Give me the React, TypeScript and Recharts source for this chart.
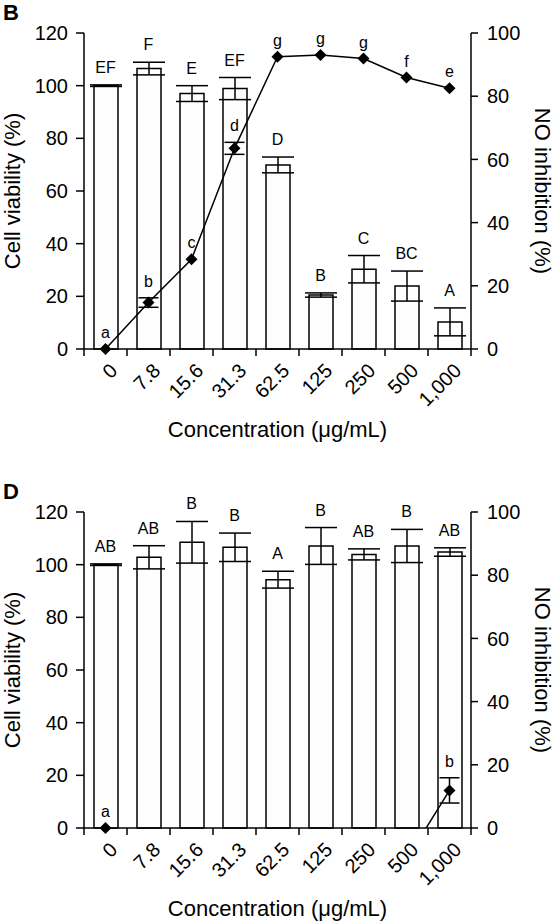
import React from "react";
import {
  ComposedChart,
  Bar,
  Line,
  XAxis,
  YAxis,
  ErrorBar,
  LabelList,
} from "recharts";

const concentrations = ["0", "7.8", "15.6", "31.3", "62.5", "125", "250", "500", "1,000"];

// panel B
const viabilityB = [100, 106.5, 97, 98.9, 69.9, 20.5, 30.3, 23.9, 10.3];
const viabilityErrB = [0.3, 2.4, 3, 4.2, 3, 0.8, 5.2, 5.7, 5.3];
const viabilityLettersB = ["EF", "F", "E", "EF", "D", "B", "C", "BC", "A"];
const inhibitionB = [0, 14.7, 28.4, 63.5, 92.5, 93, 91.9, 85.9, 82.5];
const inhibitionErrB = [0, 1.5, 0, 1.9, 0, 0, 0, 0, 0];
const inhibitionLettersB = ["a", "b", "c", "d", "g", "g", "g", "f", "e"];

// panel D (inhibition below zero is off the axis)
const viabilityD = [100, 102.8, 108.5, 106.6, 94.3, 107.1, 103.9, 107.1, 104.8];
const viabilityErrD = [0.3, 4.4, 7.9, 5.4, 3.2, 7, 2.1, 6.3, 1.6];
const viabilityLettersD = ["AB", "AB", "B", "B", "A", "B", "AB", "B", "AB"];
const inhibitionD = [0, -6, -9, -7, -10, -8, -9, -10, 11.9];
const inhibitionErrD = [0, 0, 0, 0, 0, 0, 0, 0, 4];
const inhibitionLettersD = ["a", null, null, null, null, null, null, null, "b"];

const leftTicks = [0, 20, 40, 60, 80, 100, 120];
const rightTicks = [0, 20, 40, 60, 80, 100];

const FONT = "'Liberation Sans', Arial, Helvetica, sans-serif";
const W = 555;
const H = 444;
const AXIS_W = 84;
const STEP = (W - 2 * AXIS_W) / concentrations.length;

function buildRows(
  via: number[],
  viaErr: number[],
  viaLet: string[],
  inh: number[],
  inhErr: number[],
  inhLet: (string | null)[]
) {
  return concentrations.map((c, i) => {
    const shown = inh[i] >= 0;
    return {
      conc: c,
      viability: via[i],
      viabilityErr: viaErr[i],
      letterPos: via[i] + viaErr[i],
      viaLetter: viaLet[i],
      inhibition: inh[i],
      inhShown: shown ? inh[i] : null,
      inhErr: shown && inhErr[i] > 0 ? inhErr[i] : null,
      inhLetterPos: shown ? inh[i] + inhErr[i] : null,
      inhLetter: shown ? inhLet[i] : null,
    };
  });
}

const XTick = (props: any) => {
  const { x, y, payload, index } = props;
  const i = index ?? payload.index;
  const ax = x + 13;
  const ay = y + 23;
  return (
    <g>
      <line x1={x - STEP / 2} x2={x - STEP / 2} y1={y} y2={y + 7} stroke="#000" strokeWidth={1.5} />
      {i === concentrations.length - 1 && (
        <line x1={x + STEP / 2} x2={x + STEP / 2} y1={y} y2={y + 7} stroke="#000" strokeWidth={1.5} />
      )}
      <text
        x={ax}
        y={ay}
        transform={`rotate(-45, ${ax}, ${ay})`}
        textAnchor="end"
        fontSize={20}
        fontFamily={FONT}
        fill="#000"
      >
        {payload.value}
      </text>
    </g>
  );
};

const Diamond = (props: any) => {
  const { cx, cy, index } = props;
  if (cx == null || cy == null || isNaN(cy)) return <g key={`dm-${index}`} />;
  const r = 6;
  return (
    <path
      key={`dm-${index}`}
      d={`M${cx},${cy - r}L${cx + r},${cy}L${cx},${cy + r}L${cx - r},${cy}Z`}
      fill="#000"
    />
  );
};

function Panel({ tag, rows }: { tag: string; rows: any[] }) {
  const tickStyle = { fontSize: 20, fontFamily: FONT, fill: "#000" };
  return (
    <div style={{ position: "relative", width: W, height: H }}>
      <svg style={{ position: "absolute", left: 0, top: 0 }} width={40} height={30}>
        <text x={3} y={20} fontSize={22} fontWeight="bold" fontFamily={FONT} fill="#000">
          {tag}
        </text>
      </svg>
      <ComposedChart
        width={W}
        height={H}
        data={rows}
        margin={{ top: 33, right: 0, bottom: 0, left: 0 }}
      >
        <XAxis
          dataKey="conc"
          height={H - 33 - 316}
          interval={0}
          tickLine={false}
          tickSize={0}
          tickMargin={0}
          tick={<XTick />}
          axisLine={{ stroke: "#000", strokeWidth: 1.5 }}
          label={(p: any) => {
            const vb = p.viewBox;
            return (
              <text
                x={vb.x + vb.width / 2}
                y={vb.y + 88}
                textAnchor="middle"
                fontSize={22}
                fontFamily={FONT}
                fill="#000"
              >
                Concentration (μg/mL)
              </text>
            );
          }}
        />
        <YAxis
          yAxisId="left"
          width={AXIS_W}
          domain={[0, 120]}
          ticks={leftTicks}
          interval={0}
          tickSize={8}
          tickMargin={8}
          tick={tickStyle}
          axisLine={{ stroke: "#000", strokeWidth: 1.5 }}
          tickLine={{ stroke: "#000", strokeWidth: 1.5 }}
          label={(p: any) => {
            const vb = p.viewBox;
            const cy = vb.y + vb.height / 2;
            return (
              <text
                x={20}
                y={cy}
                transform={`rotate(-90, 20, ${cy})`}
                textAnchor="middle"
                fontSize={22}
                fontFamily={FONT}
                fill="#000"
              >
                Cell viability (%)
              </text>
            );
          }}
        />
        <YAxis
          yAxisId="right"
          orientation="right"
          width={AXIS_W}
          domain={[0, 100]}
          allowDataOverflow
          ticks={rightTicks}
          interval={0}
          tickSize={7}
          tickMargin={9}
          tick={tickStyle}
          axisLine={{ stroke: "#000", strokeWidth: 1.5 }}
          tickLine={{ stroke: "#000", strokeWidth: 1.5 }}
          label={(p: any) => {
            const vb = p.viewBox;
            const cy = vb.y + vb.height / 2;
            return (
              <text
                x={535}
                y={cy}
                transform={`rotate(90, 535, ${cy})`}
                textAnchor="middle"
                fontSize={22}
                fontFamily={FONT}
                fill="#000"
              >
                NO inhibition (%)
              </text>
            );
          }}
        />
        <YAxis yAxisId="marks" orientation="right" hide width={0} domain={[0, 100]} />
        <Bar
          yAxisId="left"
          dataKey="viability"
          fill="#fefefe"
          stroke="#000"
          strokeWidth={1.5}
          barSize={24}
          isAnimationActive={false}
        >
          <ErrorBar dataKey="viabilityErr" width={16} stroke="#000" strokeWidth={1.5} />
        </Bar>
        <Line
          yAxisId="left"
          dataKey="letterPos"
          stroke="none"
          dot={false}
          activeDot={false}
          isAnimationActive={false}
        >
          <LabelList
            dataKey="viaLetter"
            position="top"
            offset={12}
            style={{ fontSize: 16, fontFamily: FONT, fill: "#000" }}
          />
        </Line>
        <Line
          yAxisId="right"
          dataKey="inhibition"
          stroke="#000"
          strokeWidth={1.5}
          dot={false}
          activeDot={false}
          isAnimationActive={false}
        />
        <Line
          yAxisId="marks"
          dataKey="inhShown"
          stroke="none"
          dot={Diamond}
          activeDot={false}
          isAnimationActive={false}
        >
          <ErrorBar dataKey="inhErr" width={10} stroke="#000" strokeWidth={1.5} />
        </Line>
        <Line
          yAxisId="marks"
          dataKey="inhLetterPos"
          stroke="none"
          dot={false}
          activeDot={false}
          isAnimationActive={false}
        >
          <LabelList
            dataKey="inhLetter"
            position="top"
            offset={11}
            style={{ fontSize: 16, fontFamily: FONT, fill: "#000" }}
          />
        </Line>
      </ComposedChart>
    </div>
  );
}

export default function App() {
  const rowsB = buildRows(viabilityB, viabilityErrB, viabilityLettersB, inhibitionB, inhibitionErrB, inhibitionLettersB);
  const rowsD = buildRows(viabilityD, viabilityErrD, viabilityLettersD, inhibitionD, inhibitionErrD, inhibitionLettersD);
  return (
    <div style={{ position: "absolute", left: 0, top: 0, width: W, height: 923, background: "#fff", fontFamily: FONT }}>
      <div style={{ position: "absolute", left: 0, top: 0 }}>
        <Panel tag="B" rows={rowsB} />
      </div>
      <div style={{ position: "absolute", left: 0, top: 479 }}>
        <Panel tag="D" rows={rowsD} />
      </div>
    </div>
  );
}
